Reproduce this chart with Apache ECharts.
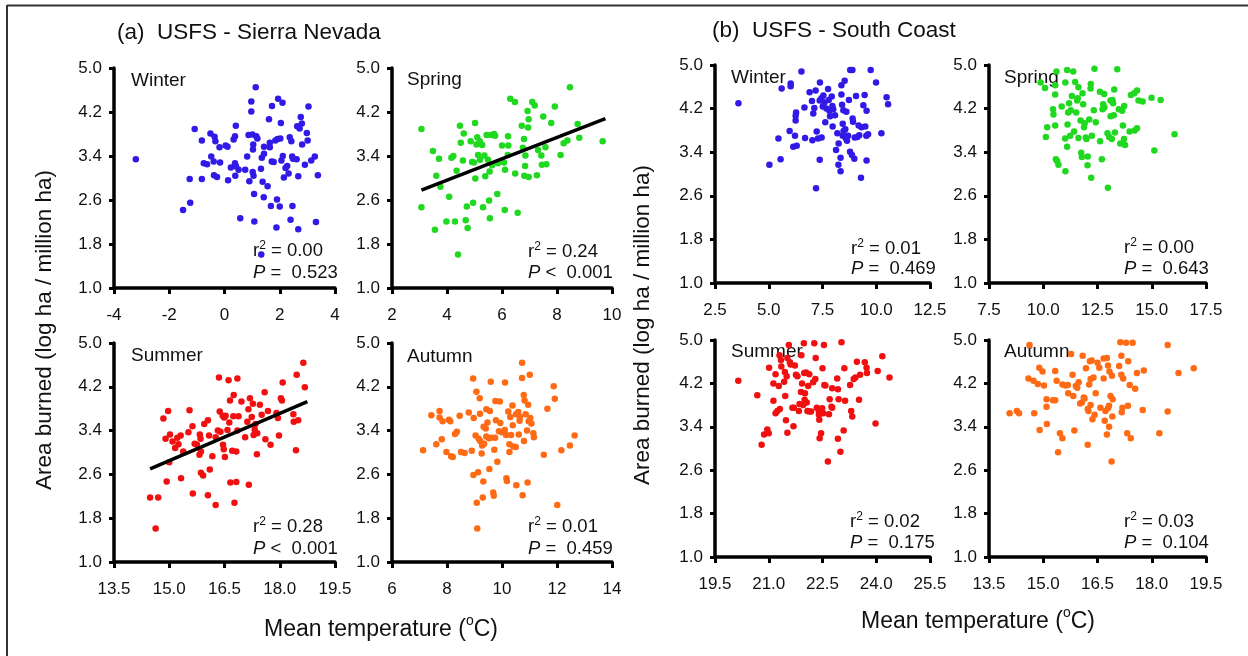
<!DOCTYPE html>
<html>
<head>
<meta charset="utf-8">
<script src="https://cdn.jsdelivr.net/npm/echarts@6/dist/echarts.min.js"></script>
<style>
html,body{margin:0;padding:0;background:#fff;}
#chart{width:1248px;height:656px;}
</style>
</head>
<body>
<div id="chart"></div>
<script>
// ---------------- DATA ----------------
const seasons = ['Winter', 'Spring', 'Summer', 'Autumn'];
const yTicks = [1.0, 1.8, 2.6, 3.4, 4.2, 5.0];

// x tick values per panel
const snWinterTicks = [-4, -2, 0, 2, 4];
const snSpringTicks = [2, 4, 6, 8, 10];
const snSummerTicks = [13.5, 15.0, 16.5, 18.0, 19.5];
const snAutumnTicks = [6, 8, 10, 12, 14];
const scWinterTicks = [2.5, 5.0, 7.5, 10.0, 12.5];
const scSpringTicks = [7.5, 10.0, 12.5, 15.0, 17.5];
const scSummerTicks = [19.5, 21.0, 22.5, 24.0, 25.5];
const scAutumnTicks = [13.5, 15.0, 16.5, 18.0, 19.5];

// statistics text
const snR2 = ['0.00', '0.24', '0.28', '0.01'];
const snP = ['=  0.523', '<  0.001', '<  0.001', '=  0.459'];
const scR2 = ['0.01', '0.00', '0.02', '0.03'];
const scP = ['=  0.469', '=  0.643', '=  0.175', '=  0.104'];

// regression lines [temp, log area]
const snSpringFit = [[3.07, 2.78], [9.76, 4.08]];
const snSummerFit = [[14.48, 2.70], [18.75, 3.93]];

// (a) USFS - Sierra Nevada : [mean temperature, log area burned]
const snWinter = [[-3.21,3.34],[1.13,4.65],[-1.08,3.89],[-1.50,2.42],[-1.24,2.55],[-1.26,2.98],[-0.82,2.98],[-0.82,3.68],[-0.75,3.27],[-0.63,3.25],[-0.51,3.81],[-0.48,3.39],[-0.36,3.75],[-0.39,3.30],[-0.33,3.67],[-0.38,3.05],[-0.27,3.02],[-0.18,3.56],[-0.16,3.28],[0.04,3.59],[0.11,3.57],[0.13,2.96],[0.23,3.19],[0.33,3.70],[0.38,3.76],[0.41,3.95],[0.38,3.27],[0.42,3.21],[0.39,3.04],[0.51,3.15],[0.57,2.27],[0.75,3.15],[0.82,3.39],[0.90,2.94],[0.87,3.78],[0.97,4.39],[0.97,4.21],[1.01,3.79],[1.03,3.52],[1.04,3.61],[1.02,3.11],[1.05,3.04],[1.07,2.71],[1.08,2.21],[1.15,3.76],[1.19,3.72],[1.32,3.17],[1.35,3.37],[1.38,2.93],[1.42,2.65],[1.43,3.44],[1.43,3.57],[1.56,2.85],[1.61,4.07],[1.64,3.56],[1.64,3.64],[1.72,4.31],[1.71,3.30],[1.68,2.49],[1.78,3.29],[1.84,3.68],[1.92,3.71],[1.88,2.10],[1.90,2.61],[1.94,4.44],[2.00,2.48],[2.02,3.72],[2.04,4.00],[2.06,3.32],[2.10,4.37],[2.11,3.40],[2.15,3.01],[2.21,3.18],[2.27,3.22],[2.32,3.08],[2.36,3.74],[2.39,2.24],[2.42,3.67],[2.46,2.49],[2.45,3.39],[2.48,3.35],[2.61,3.34],[2.63,3.94],[2.67,3.03],[2.67,2.07],[2.72,3.90],[2.76,4.11],[2.80,3.99],[2.81,3.61],[2.91,3.24],[2.98,3.82],[3.01,3.68],[3.04,4.30],[3.14,3.32],[3.27,3.39],[3.31,2.20],[3.38,3.05],[1.33,1.61]];

const snSpring = [[3.07,3.89],[3.07,2.47],[3.49,3.49],[3.56,2.06],[3.61,3.04],[3.71,3.35],[3.76,2.84],[4.08,2.66],[3.98,2.21],[4.29,2.21],[4.16,3.37],[4.23,3.40],[4.35,3.13],[4.40,1.61],[4.47,3.95],[4.50,3.64],[4.61,3.81],[4.58,3.32],[4.68,2.23],[4.72,2.48],[4.75,2.09],[4.86,3.67],[4.91,3.29],[4.95,2.55],[5.02,4.00],[4.98,3.28],[5.03,2.99],[5.07,3.61],[5.10,3.74],[5.13,3.42],[5.20,3.33],[5.19,3.67],[5.28,3.60],[5.31,2.47],[5.36,3.41],[5.39,3.03],[5.44,3.78],[5.49,3.33],[5.53,2.59],[5.55,3.12],[5.56,2.27],[5.61,3.78],[5.64,3.23],[5.71,3.80],[5.75,3.77],[5.83,2.71],[5.85,3.27],[6.00,3.59],[6.07,3.28],[6.11,3.15],[6.10,2.42],[6.21,3.42],[6.22,3.76],[6.23,3.59],[6.30,4.44],[6.47,4.38],[6.48,3.08],[6.57,2.37],[6.72,3.95],[6.80,3.71],[6.85,3.41],[6.76,3.55],[6.81,3.04],[6.84,3.22],[6.93,4.22],[6.97,4.07],[6.95,3.92],[6.97,3.02],[7.10,4.38],[7.19,4.32],[7.27,3.05],[7.31,3.51],[7.43,3.41],[7.45,3.24],[7.50,4.12],[7.58,3.56],[7.61,3.25],[7.79,4.00],[7.92,4.30],[8.13,3.42],[8.24,3.63],[8.38,3.68],[8.47,4.65],[8.75,3.98],[8.81,3.73],[9.66,3.67]];

const snSummer = [[14.48,2.18],[14.70,2.18],[14.63,1.61],[14.84,3.62],[14.93,2.47],[14.97,3.76],[14.90,3.25],[15.02,3.33],[15.00,2.82],[15.09,3.20],[15.16,3.08],[15.22,3.27],[15.25,3.15],[15.32,2.53],[15.31,3.31],[15.38,3.02],[15.52,3.37],[15.55,3.77],[15.63,3.48],[15.64,2.25],[15.69,3.16],[15.75,3.14],[15.83,3.33],[15.85,3.25],[15.86,3.02],[15.82,2.96],[15.86,2.63],[15.92,2.58],[15.95,3.52],[16.05,3.59],[16.05,2.22],[16.08,3.31],[16.10,2.69],[16.17,2.93],[16.26,2.04],[16.26,3.28],[16.32,3.40],[16.35,4.37],[16.37,3.75],[16.39,3.38],[16.45,3.67],[16.46,3.14],[16.48,3.06],[16.51,2.92],[16.49,3.64],[16.53,3.67],[16.58,3.41],[16.61,4.32],[16.63,3.55],[16.65,3.95],[16.66,2.45],[16.71,3.03],[16.74,3.66],[16.75,4.05],[16.77,2.08],[16.82,2.46],[16.85,4.35],[16.82,3.02],[16.88,3.66],[16.85,3.40],[16.96,3.93],[17.06,3.28],[17.12,3.56],[17.15,3.79],[17.16,2.41],[17.19,3.99],[17.24,3.65],[17.27,3.89],[17.29,3.32],[17.34,3.52],[17.32,3.42],[17.38,2.97],[17.39,3.35],[17.46,3.87],[17.51,3.69],[17.59,4.10],[17.61,3.24],[17.68,3.76],[17.75,3.14],[17.91,3.72],[17.95,3.63],[17.98,3.31],[18.03,3.99],[18.06,3.95],[18.08,4.28],[18.37,3.70],[18.38,3.56],[18.44,3.04],[18.46,4.42],[18.50,3.59],[18.64,4.64],[18.68,4.19]];

const snAutumn = [[7.13,3.04],[7.43,3.68],[7.61,3.15],[7.73,3.76],[7.73,3.64],[7.81,3.24],[7.84,3.57],[7.98,3.01],[8.07,3.60],[8.12,3.57],[8.15,2.93],[8.21,2.92],[8.29,3.34],[8.36,3.38],[8.46,3.67],[8.51,3.01],[8.64,2.99],[8.79,3.73],[8.90,3.03],[8.95,4.35],[8.97,3.63],[8.96,2.59],[9.04,3.31],[9.07,4.11],[9.08,2.08],[9.10,1.61],[9.13,2.64],[9.15,3.25],[9.19,3.99],[9.20,3.71],[9.21,3.21],[9.26,2.98],[9.28,3.13],[9.30,2.18],[9.32,2.47],[9.33,3.47],[9.35,3.16],[9.41,3.44],[9.43,3.79],[9.43,3.29],[9.47,3.55],[9.53,3.26],[9.54,2.70],[9.56,3.76],[9.59,4.29],[9.61,3.27],[9.68,2.27],[9.70,2.21],[9.72,3.05],[9.75,3.27],[9.76,3.94],[9.78,3.59],[9.83,2.83],[9.89,3.39],[9.92,3.93],[9.94,3.54],[10.00,3.37],[10.11,4.28],[10.10,3.41],[10.15,3.32],[10.16,2.53],[10.18,2.48],[10.23,3.75],[10.27,3.01],[10.27,3.15],[10.30,3.65],[10.33,3.32],[10.38,3.86],[10.39,3.50],[10.41,3.11],[10.50,3.10],[10.51,3.70],[10.52,2.40],[10.59,3.74],[10.61,3.33],[10.64,3.58],[10.65,3.65],[10.73,4.64],[10.73,4.36],[10.75,2.22],[10.79,4.05],[10.80,3.21],[10.82,3.95],[10.86,3.70],[10.91,3.40],[10.93,2.45],[10.95,3.87],[10.97,3.57],[11.01,4.42],[11.03,3.63],[11.07,3.53],[11.14,3.35],[11.16,3.28],[11.52,2.96],[11.65,3.80],[11.88,4.21],[11.92,3.98],[12.01,2.04],[12.16,3.04],[12.47,3.13],[12.64,3.31]];

// (b) USFS - South Coast
const scWinter = [[3.59,4.30],[5.03,3.17],[5.45,3.65],[5.55,3.27],[5.60,4.57],[6.02,4.66],[6.02,4.61],[5.97,3.79],[6.22,3.70],[6.14,3.50],[6.30,3.52],[6.27,4.13],[6.25,4.07],[6.25,3.98],[6.52,4.88],[6.66,4.22],[6.69,3.66],[6.90,4.50],[7.01,4.34],[7.03,3.62],[7.07,4.11],[7.12,4.21],[7.18,4.53],[7.23,3.78],[7.20,2.74],[7.29,3.65],[7.37,3.26],[7.38,4.68],[7.37,4.35],[7.45,4.39],[7.46,3.67],[7.51,4.24],[7.54,4.44],[7.59,4.31],[7.63,3.95],[7.68,4.20],[7.76,4.56],[7.79,4.36],[7.82,4.16],[7.85,4.06],[7.93,4.42],[7.97,3.87],[7.96,4.25],[8.00,4.19],[8.08,4.08],[8.13,3.44],[8.19,3.75],[8.24,3.17],[8.25,3.56],[8.34,3.30],[8.34,3.05],[8.38,4.46],[8.38,4.63],[8.41,4.27],[8.44,3.92],[8.44,3.70],[8.47,4.17],[8.48,3.79],[8.53,4.71],[8.56,3.82],[8.59,3.65],[8.61,4.14],[8.64,3.61],[8.69,3.70],[8.73,4.36],[8.78,3.41],[8.79,4.91],[8.89,4.91],[8.87,3.35],[8.90,4.02],[8.92,3.96],[8.98,3.28],[9.00,3.67],[9.06,4.43],[9.12,3.68],[9.18,3.89],[9.21,3.71],[9.29,2.93],[9.31,3.86],[9.40,4.26],[9.46,4.45],[9.49,3.87],[9.54,3.70],[9.55,3.25],[9.55,4.16],[9.62,3.73],[9.74,4.91],[9.99,4.68],[10.24,3.75],[10.48,4.41],[10.55,4.28]];

const scSpring = [[9.88,4.68],[10.08,4.58],[10.55,4.63],[10.61,4.88],[10.55,4.46],[10.12,3.68],[10.18,3.86],[10.45,4.19],[10.47,4.09],[10.55,3.89],[10.58,3.27],[10.64,3.24],[10.70,3.17],[10.85,4.24],[11.02,3.05],[11.02,4.68],[11.10,4.91],[11.01,3.65],[11.10,3.50],[11.12,3.91],[11.15,4.13],[11.19,4.30],[11.24,3.70],[11.27,4.17],[11.32,4.43],[11.38,4.88],[11.42,3.78],[11.47,4.69],[11.52,4.13],[11.56,4.35],[11.59,4.39],[11.62,4.59],[11.62,3.66],[11.72,3.98],[11.75,3.39],[11.78,3.31],[11.81,4.48],[11.84,4.28],[11.88,3.86],[11.91,3.93],[11.96,3.67],[11.99,3.64],[12.04,3.16],[12.05,3.32],[12.12,4.00],[12.18,4.57],[12.19,4.65],[12.21,2.93],[12.24,3.70],[12.33,4.17],[12.36,4.93],[12.42,3.95],[12.62,3.60],[12.61,4.51],[12.70,3.27],[12.73,4.19],[12.76,4.28],[12.81,4.47],[12.82,4.22],[12.96,3.75],[12.98,2.75],[13.04,3.68],[13.10,4.06],[13.10,4.35],[13.16,3.64],[13.19,4.36],[13.22,4.30],[13.25,4.08],[13.27,4.55],[13.30,3.76],[13.41,4.92],[13.48,4.19],[13.55,3.56],[13.64,4.16],[13.67,3.89],[13.73,4.25],[13.72,3.64],[13.77,3.53],[13.98,3.78],[14.04,4.45],[14.19,4.48],[14.21,3.80],[14.32,4.53],[14.32,3.84],[14.39,4.35],[14.58,4.33],[14.99,4.40],[15.12,3.43],[15.41,4.36],[16.05,3.73]];

const scSummer = [[20.15,4.25],[20.68,3.98],[20.80,3.07],[20.87,3.26],[20.96,3.35],[21.00,3.28],[21.01,4.49],[21.13,4.20],[21.13,3.88],[21.19,4.37],[21.19,3.65],[21.24,3.69],[21.28,4.15],[21.30,4.72],[21.31,3.73],[21.34,4.63],[21.35,4.51],[21.43,4.23],[21.45,4.41],[21.46,3.97],[21.48,3.52],[21.50,4.33],[21.52,3.29],[21.52,4.67],[21.56,4.91],[21.59,4.59],[21.61,4.55],[21.66,3.75],[21.69,3.41],[21.70,3.75],[21.73,4.53],[21.76,4.36],[21.80,4.33],[21.84,3.69],[21.86,3.82],[21.90,4.04],[21.91,4.72],[21.93,4.20],[21.96,3.80],[21.98,4.94],[21.99,4.39],[22.00,3.90],[22.01,4.02],[22.04,4.40],[22.06,3.85],[22.08,3.69],[22.10,4.15],[22.13,4.37],[22.13,3.68],[22.18,3.68],[22.24,4.22],[22.27,4.94],[22.30,4.28],[22.31,4.67],[22.34,3.75],[22.40,3.68],[22.40,3.62],[22.41,3.53],[22.42,3.19],[22.46,3.28],[22.49,3.74],[22.50,4.48],[22.52,3.65],[22.54,4.91],[22.55,4.17],[22.58,4.16],[22.65,2.76],[22.68,3.63],[22.70,3.91],[22.75,3.77],[22.77,4.11],[22.77,3.75],[22.91,4.29],[22.93,4.09],[22.93,3.18],[22.95,3.91],[23.00,2.94],[23.03,4.96],[23.09,3.33],[23.11,4.48],[23.13,3.88],[23.27,4.17],[23.30,3.69],[23.33,3.59],[23.37,4.28],[23.42,4.31],[23.46,4.60],[23.52,3.90],[23.55,4.36],[23.68,4.59],[23.73,4.49],[23.74,4.39],[23.98,3.46],[24.04,4.43],[24.17,4.70],[24.37,4.31]];

const scAutumn = [[14.07,3.65],[14.27,3.69],[14.33,3.65],[14.62,4.91],[14.59,4.29],[14.73,4.25],[14.75,3.65],[14.85,4.19],[14.89,4.49],[14.98,4.42],[14.90,3.34],[15.02,4.16],[15.09,3.91],[15.09,3.77],[15.10,3.45],[15.27,3.89],[15.33,3.89],[15.33,4.43],[15.37,4.25],[15.41,2.93],[15.46,3.28],[15.53,3.19],[15.53,4.18],[15.62,4.16],[15.68,4.17],[15.69,4.02],[15.77,4.74],[15.81,4.36],[15.83,3.97],[15.86,3.33],[15.90,4.15],[15.94,4.12],[15.98,4.22],[16.02,3.83],[16.07,3.85],[16.09,4.71],[16.12,3.94],[16.14,3.92],[16.18,4.48],[16.23,3.07],[16.23,3.73],[16.25,3.69],[16.27,4.18],[16.29,4.61],[16.31,3.80],[16.31,4.28],[16.34,4.62],[16.36,3.54],[16.39,4.31],[16.42,3.62],[16.45,4.02],[16.50,4.58],[16.55,4.49],[16.58,3.75],[16.67,4.66],[16.67,4.29],[16.70,3.51],[16.72,3.69],[16.76,3.26],[16.76,4.67],[16.79,4.53],[16.79,3.74],[16.82,3.40],[16.82,3.79],[16.83,4.42],[16.86,3.97],[16.89,2.76],[16.90,4.34],[16.91,3.59],[16.92,3.91],[17.10,4.52],[17.13,4.96],[17.16,4.71],[17.16,4.36],[17.17,3.67],[17.19,3.75],[17.21,4.29],[17.29,4.95],[17.32,3.28],[17.34,3.79],[17.35,4.61],[17.39,4.17],[17.42,3.19],[17.47,4.95],[17.54,4.10],[17.59,4.39],[17.75,3.71],[17.78,4.44],[18.21,3.28],[18.44,4.91],[18.44,3.68],[18.74,4.39],[19.16,4.48]];

// ---------------- LAYOUT / STYLE ----------------
const FONT = "'Liberation Sans', Arial, Helvetica, sans-serif";
const INK = '#111';
const BLUE = '#3119e6', GREEN = '#1fd81f', RED = '#f01010', ORANGE = '#ff6a14';

const panels = [
  {data: snWinter, fit: null, color: BLUE, left: 114, top: 68, w: 221, h: 220, xr: [-4, 4], ticks: snWinterTicks, dec: 0, s: 0, r2: snR2[0], p: snP[0], lx: 131, ly: 81, sx: 253, ry: 251, py: 273},
  {data: snSpring, fit: snSpringFit, color: GREEN, left: 392, top: 68, w: 220, h: 220, xr: [2, 10], ticks: snSpringTicks, dec: 0, s: 1, r2: snR2[1], p: snP[1], lx: 407, ly: 80, sx: 528, ry: 252, py: 273},
  {data: snSummer, fit: snSummerFit, color: RED, left: 114, top: 343, w: 221, h: 219, xr: [13.5, 19.5], ticks: snSummerTicks, dec: 1, s: 2, r2: snR2[2], p: snP[2], lx: 131, ly: 356, sx: 253, ry: 527, py: 549},
  {data: snAutumn, fit: null, color: ORANGE, left: 392, top: 343, w: 220, h: 219, xr: [6, 14], ticks: snAutumnTicks, dec: 0, s: 3, r2: snR2[3], p: snP[3], lx: 407, ly: 357, sx: 528, ry: 527, py: 549},
  {data: scWinter, fit: null, color: BLUE, left: 715, top: 65, w: 215, h: 218, xr: [2.5, 12.5], ticks: scWinterTicks, dec: 1, s: 0, r2: scR2[0], p: scP[0], lx: 731, ly: 78, sx: 851, ry: 249, py: 269},
  {data: scSpring, fit: null, color: GREEN, left: 989, top: 65, w: 217, h: 218, xr: [7.5, 17.5], ticks: scSpringTicks, dec: 1, s: 1, r2: scR2[1], p: scP[1], lx: 1004, ly: 78, sx: 1124, ry: 248, py: 269},
  {data: scSummer, fit: null, color: RED, left: 715, top: 340, w: 215, h: 217, xr: [19.5, 25.5], ticks: scSummerTicks, dec: 1, s: 2, r2: scR2[2], p: scP[2], lx: 731, ly: 352, sx: 850, ry: 522, py: 543},
  {data: scAutumn, fit: null, color: ORANGE, left: 989, top: 340, w: 217, h: 217, xr: [13.5, 19.5], ticks: scAutumnTicks, dec: 1, s: 3, r2: scR2[3], p: scP[3], lx: 1004, ly: 352, sx: 1124, ry: 522, py: 543}
];

const axisLineStyle = {color: '#000', width: 3.5};
const tickStyle = {color: '#000', width: 3};

const grid = panels.map(p => ({left: p.left, top: p.top, width: p.w, height: p.h}));

const xAxis = panels.map((p, i) => ({
  type: 'value', gridIndex: i, min: p.xr[0], max: p.xr[1],
  interval: p.ticks[1] - p.ticks[0],
  axisLine: {show: true, onZero: false, lineStyle: axisLineStyle},
  axisTick: {show: true, inside: false, length: 6, lineStyle: tickStyle, customValues: p.ticks},
  axisLabel: {
    customValues: p.ticks, margin: 19, fontSize: 17, color: INK, fontFamily: FONT,
    formatter: v => Number(v).toFixed(p.dec)
  },
  splitLine: {show: false}
}));

const yAxis = panels.map((p, i) => ({
  type: 'value', gridIndex: i, min: 1.0, max: 5.0,
  axisLine: {show: true, onZero: false, lineStyle: axisLineStyle},
  axisTick: {show: true, inside: false, length: 5, lineStyle: tickStyle, customValues: yTicks},
  axisLabel: {
    customValues: yTicks, margin: 12, fontSize: 17, color: INK, fontFamily: FONT,
    formatter: v => Number(v).toFixed(1)
  },
  splitLine: {show: false}
}));

const series = [];
panels.forEach((p, i) => {
  series.push({
    type: 'scatter', xAxisIndex: i, yAxisIndex: i, data: p.data,
    symbol: 'circle', symbolSize: 6.5,
    itemStyle: {color: p.color, opacity: 1},
    silent: true, z: 3
  });
  if (p.fit) {
    series.push({
      type: 'line', xAxisIndex: i, yAxisIndex: i, data: p.fit,
      symbol: 'none', lineStyle: {color: '#000', width: 3.5},
      silent: true, z: 4
    });
  }
});

function txt(x, y, text, size, extra) {
  return {
    type: 'text', x: x, y: y, z: 1,
    style: Object.assign({
      text: text, fontSize: size, fontFamily: FONT, fill: INK,
      textAlign: 'left', textVerticalAlign: 'middle'
    }, extra || {})
  };
}
const supRich = sz => ({sup: {fontSize: sz, fontFamily: FONT, fill: INK, verticalAlign: 'top', lineHeight: sz}});

const graphic = [
  {type: 'line', shape: {x1: 7, y1: 5.5, x2: 1248, y2: 5.5}, style: {stroke: '#333', lineWidth: 2}},
  {type: 'line', shape: {x1: 7, y1: 5, x2: 7, y2: 656}, style: {stroke: '#333', lineWidth: 2}},
  txt(117, 33, '(a)  USFS - Sierra Nevada', 22.5),
  txt(712, 31, '(b)  USFS - South Coast', 22.5),
  txt(381, 630, 'Mean temperature ({sup|o}C)', 23, {textAlign: 'center', lineHeight: 32, rich: supRich(14)}),
  txt(978, 622, 'Mean temperature ({sup|o}C)', 23, {textAlign: 'center', lineHeight: 32, rich: supRich(14)}),
  Object.assign(txt(45, 330, 'Area burned (log ha / million ha)', 22.5, {textAlign: 'center'}), {rotation: Math.PI / 2}),
  Object.assign(txt(643, 325, 'Area burned (log ha / million ha)', 22.5, {textAlign: 'center'}), {rotation: Math.PI / 2})
];
panels.forEach(p => {
  graphic.push(txt(p.lx, p.ly, seasons[p.s], 19));
  graphic.push(txt(p.sx, p.ry, 'r{sup|2} = ' + p.r2, 18.5, {lineHeight: 22, rich: supRich(12)}));
  graphic.push(txt(p.sx, p.py, '{it|P} ' + p.p, 18.5, {
    lineHeight: 22,
    rich: {it: {fontSize: 18.5, fontFamily: FONT, fontStyle: 'italic', fill: INK, lineHeight: 22}}
  }));
});

const chart = echarts.init(document.getElementById('chart'), null, {renderer: 'canvas'});
chart.setOption({
  animation: false,
  backgroundColor: '#fff',
  grid: grid,
  xAxis: xAxis,
  yAxis: yAxis,
  series: series,
  graphic: graphic
});
</script>
</body>
</html>
